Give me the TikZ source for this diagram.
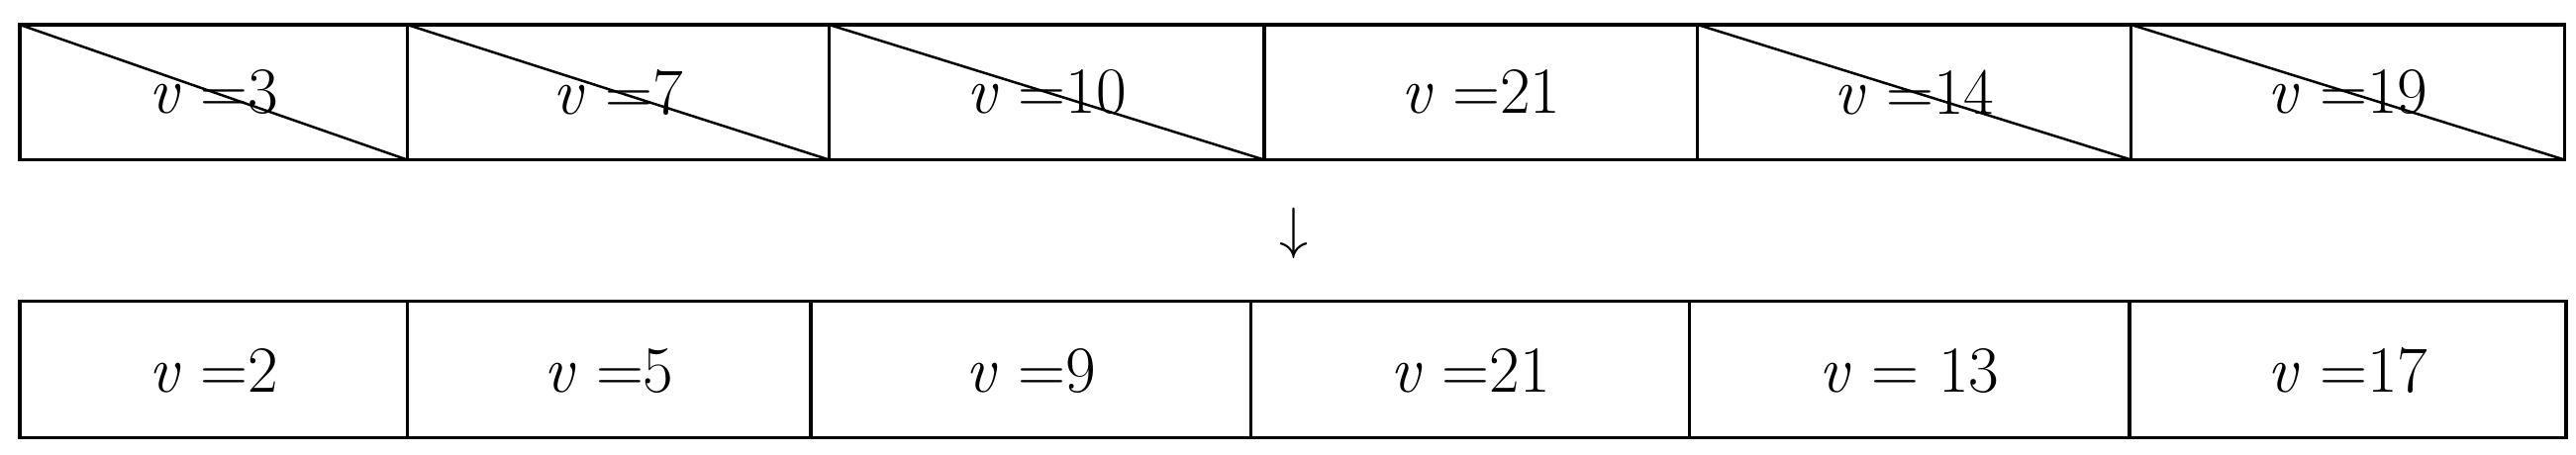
\documentclass[tikz,border=0pt]{standalone}
\begin{document}
\begin{tikzpicture}[x=1pt,y=-1pt,line width=2pt,
  lbl/.style={font=\fontsize{40}{44}\selectfont, inner sep=0pt}]
\useasboundingbox (0,0) rectangle (1563,276);
% top row
\foreach \a/\b/\t/\c [count=\i] in {12/247/3/1,247/503/7/1,503/767/10/1,767/1030/21/0,1030/1293/14/1,1293/1556/19/1}{
  \draw (\a,15) rectangle (\b,97);
  \node[lbl] (t\i) at ({(\a+\b)/2},56) {\textit{v} =\t};
  \ifnum\c=1 \draw[line width=1.5pt] (\a,15) -- (\b,97); \fi
}
\node[lbl] (arr) at (785,142) {\scalebox{1.4}{$\downarrow$}};
\foreach \a/\b/\t [count=\i] in {12/247/2,247/492/5,492/759/9,759/1025/21,1025/1292/{ 13},1292/1557/17}{
  \draw (\a,183) rectangle (\b,266);
  \node[lbl] (b\i) at ({(\a+\b)/2},225) {\textit{v} =\t};
}
\end{tikzpicture}
\end{document}
